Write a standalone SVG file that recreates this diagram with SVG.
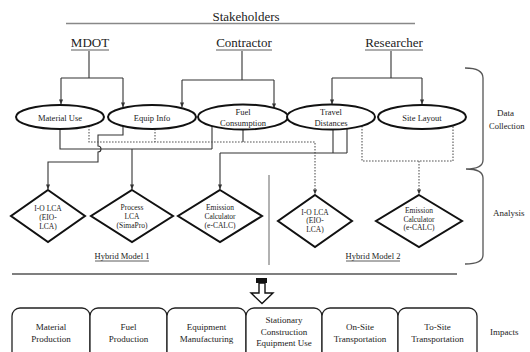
<svg xmlns="http://www.w3.org/2000/svg" width="530" height="352" viewBox="0 0 530 352" font-family="'Liberation Serif', 'DejaVu Serif', serif">
<style>
text{font-family:'Liberation Serif','DejaVu Serif',serif;fill:#222;text-anchor:middle}
.st{font-size:13px}
.el{font-size:8.5px}
.dm{font-size:7.5px}
.bx{font-size:9px}
.side{font-size:9px;text-anchor:start}
.hm{font-size:8.5px}
.node ellipse,.node polygon{fill:#fff;stroke:#111;stroke-width:2}
.box rect{fill:#fff;stroke:#222;stroke-width:1.3}
.c{fill:none;stroke:#333;stroke-width:1.1}
.d{fill:none;stroke:#555;stroke-width:1.1;stroke-dasharray:1.6 1.4}
.ul{stroke:#333;stroke-width:0.8}
</style>
<defs>
<marker id="ah" viewBox="0 0 6 6" refX="5.5" refY="3" markerWidth="5" markerHeight="5" orient="auto" markerUnits="userSpaceOnUse">
<path d="M0,0.5 L6,3 L0,5.5 Z" fill="#333"/>
</marker>
</defs>

<g id="header">
<text class="st" x="246" y="21">Stakeholders</text>
<line x1="66" y1="23.5" x2="415" y2="23.5" stroke="#888" stroke-width="1.6"/>
</g>

<g id="mdot"><text class="st" x="90" y="47">MDOT</text><line class="ul" x1="71" y1="50" x2="109" y2="50"/></g>
<g id="contractor"><text class="st" x="244" y="47">Contractor</text><line class="ul" x1="216" y1="50" x2="272" y2="50"/></g>
<g id="researcher"><text class="st" x="394" y="47">Researcher</text><line class="ul" x1="365" y1="50" x2="423" y2="50"/></g>

<g id="connectors">
<path class="c" d="M89,51 V78 M61,78 H123"/>
<path class="c" d="M61,78 V104" marker-end="url(#ah)"/>
<path class="c" d="M123,78 V107" marker-end="url(#ah)"/>
<path class="c" d="M242,51 V80 M182,80 H274"/>
<path class="c" d="M182,80 V107" marker-end="url(#ah)"/>
<path class="c" d="M274,80 V108" marker-end="url(#ah)"/>
<path class="c" d="M391,51 V78 M332,78 H422"/>
<path class="c" d="M332,78 V104" marker-end="url(#ah)"/>
<path class="c" d="M422,78 V104" marker-end="url(#ah)"/>

<path class="c" d="M60,129 V149 H212 M212,126 V149"/>
<path class="c" d="M132,149 V189" marker-end="url(#ah)"/>
<path class="c" d="M123,126 V135 H98 V146 A3,3 0 0 1 98,152 V162 H48 V189" marker-end="url(#ah)"/>
<path class="c" d="M243,129 V142"/>
<path class="d" d="M89,126 V142 H315 V194" marker-end="url(#ah)"/>
<path class="d" d="M155,129 V142"/>
<path class="c" d="M333,129 V153 M347,128 V153 M220,153 H347"/>
<path class="c" d="M220,153 V189" marker-end="url(#ah)"/>
<path class="d" d="M362,126 V161 H453 V125"/>
<path class="d" d="M419,161 V194" marker-end="url(#ah)"/>
</g>

<g id="material-use" class="node"><ellipse cx="60" cy="117" rx="44" ry="12"/><text class="el" x="60" y="120.5">Material Use</text></g>
<g id="equip-info" class="node"><ellipse cx="152" cy="117" rx="44" ry="12"/><text class="el" x="152" y="120.5">Equip Info</text></g>
<g id="fuel-consumption" class="node"><ellipse cx="243" cy="117" rx="45" ry="12.5"/><text class="el" x="243" y="115">Fuel</text><text class="el" x="243" y="126">Consumption</text></g>
<g id="travel-distances" class="node"><ellipse cx="331" cy="117" rx="44" ry="12.5"/><text class="el" x="331" y="115">Travel</text><text class="el" x="331" y="126">Distances</text></g>
<g id="site-layout" class="node"><ellipse cx="422" cy="117" rx="44" ry="12"/><text class="el" x="422" y="120.5">Site Layout</text></g>

<g id="io-lca-1" class="node"><polygon points="48,190 85,216 48,242 11,216"/><text class="dm" x="48" y="210.5">I-O LCA</text><text class="dm" x="48" y="219.5">(EIO-</text><text class="dm" x="48" y="228.5">LCA)</text></g>
<g id="process-lca" class="node"><polygon points="132,190 173,216 132,242 91,216"/><text class="dm" x="132" y="210">Process</text><text class="dm" x="132" y="219">LCA</text><text class="dm" x="132" y="228">(SimaPro)</text></g>
<g id="emission-calc-1" class="node"><polygon points="220,190 262,216 220,242 178,216"/><text class="dm" x="220" y="210">Emission</text><text class="dm" x="220" y="219">Calculator</text><text class="dm" x="220" y="228">(e-CALC)</text></g>
<g id="io-lca-2" class="node"><polygon points="315,195 352,221 315,247 278,221"/><text class="dm" x="315" y="214.5">I-O LCA</text><text class="dm" x="315" y="223">(EIO-</text><text class="dm" x="315" y="231.5">LCA)</text></g>
<g id="emission-calc-2" class="node"><polygon points="419,195 462,221 419,247 376,221"/><text class="dm" x="419" y="213">Emission</text><text class="dm" x="419" y="221.5">Calculator</text><text class="dm" x="419" y="230">(e-CALC)</text></g>

<g id="hybrid-1"><text class="hm" x="122" y="259">Hybrid Model 1</text><line class="ul" x1="95" y1="261" x2="149" y2="261"/></g>
<g id="hybrid-2"><text class="hm" x="373" y="259">Hybrid Model 2</text><line class="ul" x1="346" y1="261" x2="400" y2="261"/></g>
<line x1="269" y1="175" x2="269" y2="265" stroke="#999" stroke-width="1.5"/>

<g id="brace">
<path d="M465,68 Q483,68 483,78 V160 Q483,169 466,169 Q483,169 483,178 V255 Q483,264 465,264" fill="none" stroke="#555" stroke-width="1.3"/>
<text class="side" x="497" y="116">Data</text>
<text class="side" x="489" y="129" style="font-size:8.5px">Collection</text>
<text class="side" x="493" y="216">Analysis</text>
</g>

<line x1="12" y1="274" x2="457" y2="274" stroke="#555" stroke-width="1.4"/>

<g id="down-arrow">
<rect x="256" y="278" width="11" height="5" fill="#111"/>
<polygon points="259,283 265,283 265,293 273,293 262,303.5 251,293 259,293" fill="#fff" stroke="#111" stroke-width="1.4"/>
</g>

<g id="material-production" class="box"><rect x="12" y="308" width="78" height="60" rx="8"/><text class="bx" x="51" y="329.5">Material</text><text class="bx" x="51" y="342">Production</text></g>
<g id="fuel-production" class="box"><rect x="90" y="308" width="77" height="60" rx="8"/><text class="bx" x="128.5" y="329.5">Fuel</text><text class="bx" x="128.5" y="342">Production</text></g>
<g id="equipment-manufacturing" class="box"><rect x="167" y="308" width="79" height="60" rx="8"/><text class="bx" x="206.5" y="329.5">Equipment</text><text class="bx" x="206.5" y="342">Manufacturing</text></g>
<g id="stationary-equipment" class="box"><rect x="246" y="308" width="76" height="60" rx="8"/><text class="bx" x="284" y="323">Stationary</text><text class="bx" x="284" y="334.5">Construction</text><text class="bx" x="284" y="346">Equipment Use</text></g>
<g id="on-site-transportation" class="box"><rect x="322" y="308" width="76" height="60" rx="8"/><text class="bx" x="360" y="329.5">On-Site</text><text class="bx" x="360" y="342">Transportation</text></g>
<g id="to-site-transportation" class="box"><rect x="398" y="308" width="79" height="60" rx="8"/><text class="bx" x="437.5" y="329.5">To-Site</text><text class="bx" x="437.5" y="342">Transportation</text></g>
<text class="side" x="490" y="335">Impacts</text>
</svg>
